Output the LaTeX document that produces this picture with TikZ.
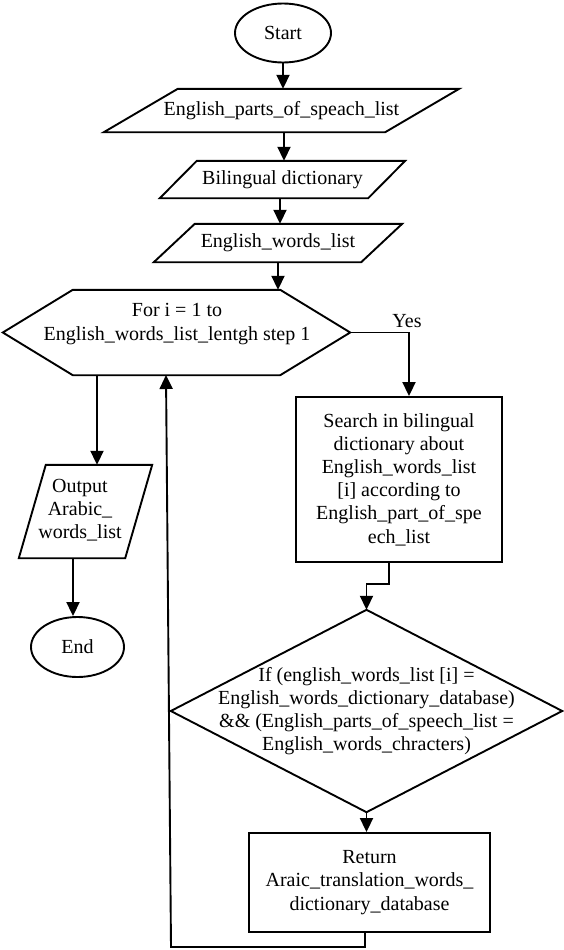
\documentclass[tikz,border=0pt]{standalone}
\usepackage{fontspec}
\setmainfont{Liberation Serif}
\usetikzlibrary{arrows.meta,shapes.geometric,calc}
\newcommand\paraoutline[2]{\draw[shp] ([xshift=#2]#1.north west) -- (#1.north east) -- ([xshift=-#2]#1.south east) -- (#1.south west) -- cycle;}
\tikzset{
  shp/.style={draw=black, line width=1.9pt, line join=miter},
  box/.style={inner sep=0pt, align=center, font=\fontsize{20}{23.2}\selectfont},
  arr/.style={draw=black, line width=1.9pt, -{Triangle[length=14pt,width=13pt]}},
  ln/.style={draw=black, line width=1.9pt},
}
\begin{document}
\begin{tikzpicture}[x=1pt,y=-1pt]
\useasboundingbox (0,0) rectangle (563,950);
\fill[white] (0,0) rectangle (563,950);

% nodes
\node[box, shp, ellipse, minimum width=96pt, minimum height=59pt] (start) at (283,33) {Start};
\node[box, minimum width=355pt, minimum height=43pt] (p1) at (281.5,110.5) {English\_parts\_of\_speach\_list};
\node[box, minimum width=245pt, minimum height=37pt] (p2) at (282.5,179.5) {Bilingual dictionary};
\node[box, minimum width=248pt, minimum height=38pt] (p3) at (278,243) {English\_words\_list};
\node[box, minimum width=347pt, minimum height=85pt] (hex) at (176.5,332.5) {};
\node[box] (hext) at (177,324) {For i = 1 to\\English\_words\_list\_lentgh step 1};
\node[box, minimum width=133pt, minimum height=93pt] (out) at (85.5,511.5) {};
\node[box] (outt) at (80,510) {Output\\Arabic\_\\words\_list};
\node[box, shp, ellipse, minimum width=93pt, minimum height=60pt] (endn) at (77.5,647) {End};
\node[box, shp, minimum width=206pt, minimum height=165pt] (search) at (399,479.5)
  {Search in bilingual\\dictionary about\\English\_words\_list\\[0pt][i] according to\\English\_part\_of\_spe\\ech\_list};
\node[box, minimum width=391pt, minimum height=202pt] (dia) at (366.5,711)
  {If (english\_words\_list [i] =\\English\_words\_dictionary\_database)\\\&\& (English\_parts\_of\_speech\_list =\\English\_words\_chracters)};
\node[box, shp, minimum width=241pt, minimum height=99pt] (ret) at (369.5,882.5)
  {Return\\Araic\_translation\_words\_\\dictionary\_database};
\node[box] (yes) at (407,321) {Yes};

% outlines
\paraoutline{p1}{74pt}
\paraoutline{p2}{37pt}
\paraoutline{p3}{41pt}
\paraoutline{out}{27pt}
\draw[shp] (hex.west) -- ([xshift=70pt]hex.north west) -- ([xshift=-70pt]hex.north east) -- (hex.east)
  -- ([xshift=-70pt]hex.south east) -- ([xshift=70pt]hex.south west) -- cycle;
\draw[shp] (dia.north) -- (dia.east) -- (dia.south) -- (dia.west) -- cycle;

% connectors
\draw[arr] (start.south) -- (start.south |- p1.north);
\draw[arr] ([xshift=2.5pt]p1.south) -- ([xshift=2.5pt]p1.south |- p2.north);
\draw[arr] ([xshift=-2.5pt]p2.south) -- ([xshift=-2.5pt]p2.south |- p3.north);
\draw[arr] (p3.south) -- (p3.south |- hex.north);
\draw[arr] (hex.east) -| ([xshift=10pt]search.north);
\draw[arr] ([xshift=11.5pt]out.north |- hex.south) -- ([xshift=11.5pt]out.north);
\draw[arr] ([xshift=-4.5pt]endn.north |- out.south) -- ([xshift=-4.5pt]endn.north);
\draw[arr] ([xshift=-10pt]search.south) -- ++(0,21) -| (dia.north);
\draw[arr] (dia.south) -- (dia.south |- ret.north);
\coordinate (lb) at (171,947);
\coordinate (lt) at (166,375);
\draw[arr] ([xshift=-4.5pt]ret.south) |- (lb) -- (lt);
\end{tikzpicture}
\end{document}
